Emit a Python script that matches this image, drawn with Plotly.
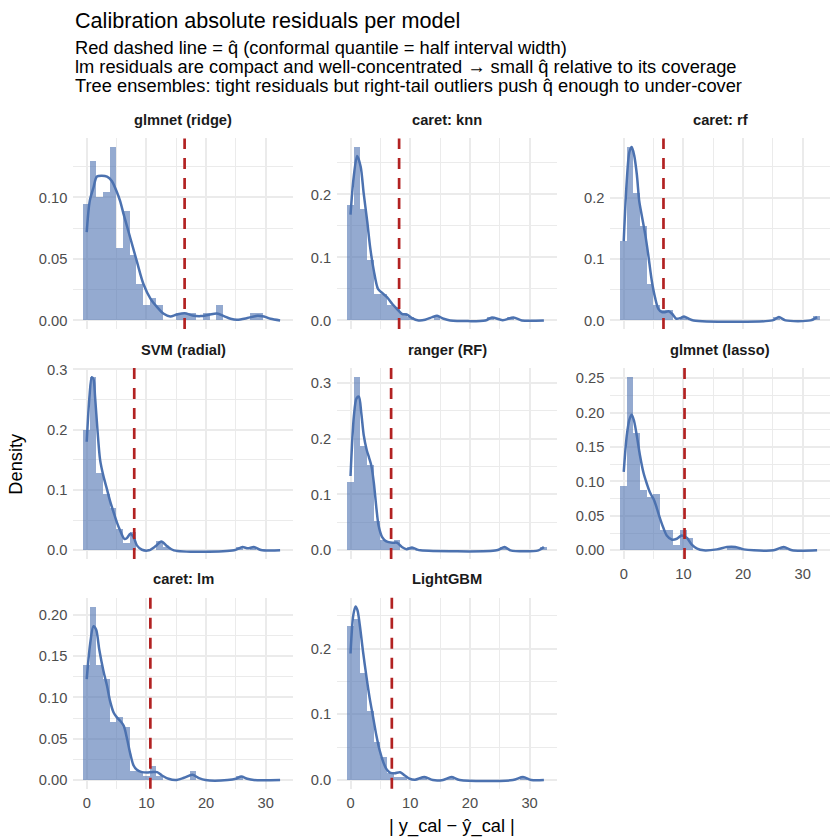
import plotly.graph_objects as go

# ---------------- data ----------------
MODELS = ["glmnet (ridge)", "caret: knn", "caret: rf",
          "SVM (radial)", "ranger (RF)", "glmnet (lasso)",
          "caret: lm", "LightGBM"]

BIN_WIDTH = 1.117          # histogram bin width (30 bins over 0..32.4)
N_BINS = 30

# histogram densities per bin (bin k centred at k*BIN_WIDTH)
hist_ridge = [0.0944, 0.1296, 0.0997, 0.1043, 0.1409, 0.0586, 0.0884, 0.053, 0.0296, 0.0121,
              0.0175, 0.0121, 0, 0, 0.0054, 0.0054, 0.0054, 0, 0.0054, 0,
              0.0121, 0, 0, 0, 0, 0.0054, 0.0054, 0, 0, 0]
hist_knn = [0.1827, 0.275, 0.176, 0.0945, 0.041, 0.041, 0.024, 0.021, 0.0105, 0.0052,
            0, 0, 0, 0.0052, 0, 0, 0, 0, 0, 0,
            0, 0.0052, 0, 0, 0.0052, 0, 0, 0, 0, 0]
hist_rf = [0.1285, 0.282, 0.206, 0.153, 0.059, 0.024, 0.017, 0.017, 0, 0.0054,
           0, 0, 0, 0, 0, 0, 0, 0, 0, 0,
           0, 0, 0, 0.0054, 0, 0, 0, 0, 0, 0.0065]
hist_svm = [0.199, 0.288, 0.128, 0.094, 0.071, 0.035, 0.012, 0.030, 0, 0,
            0, 0.0164, 0.0055, 0, 0, 0, 0, 0, 0, 0,
            0, 0, 0, 0.0055, 0, 0.0055, 0, 0, 0, 0]
hist_ranger = [0.123, 0.311, 0.187, 0.153, 0.052, 0.018, 0.013, 0.018, 0, 0.006,
               0, 0, 0, 0, 0, 0, 0, 0, 0, 0,
               0, 0, 0, 0.006, 0, 0, 0, 0, 0, 0.006]
hist_lasso = [0.0938, 0.2524, 0.1707, 0.088, 0.0774, 0.0827, 0.0293, 0.0293, 0.0072, 0.0293,
              0.0178, 0, 0, 0, 0, 0, 0.0048, 0.0048, 0, 0,
              0, 0, 0, 0, 0.0048, 0, 0, 0, 0, 0]
hist_lm = [0.14, 0.21, 0.14, 0.123, 0.070, 0.0766, 0.0645, 0.0116, 0.0116, 0.0058,
           0.0176, 0.0056, 0, 0, 0, 0, 0.0116, 0, 0, 0,
           0, 0, 0, 0.0056, 0, 0, 0, 0, 0, 0]
hist_lgbm = [0.234, 0.246, 0.163, 0.105, 0.0586, 0.0356, 0.0115, 0.0058, 0.0058, 0,
             0, 0.0058, 0, 0, 0, 0.0058, 0, 0, 0, 0,
             0, 0, 0, 0, 0, 0, 0.0058, 0, 0, 0]

# kernel density curves
dens_ridge_x = [0, 0.5, 1.1, 1.7, 2.5, 3.4, 4.2, 5.0, 5.6, 6.2, 7.3, 8.4, 9.5, 10.7, 11.8, 12.9, 14.0,
                15.1, 16.4, 17.7, 19.1, 20.5, 21.8, 23.0, 24.1, 25.2, 26.9, 28.6, 29.7, 30.8, 32.4]
dens_ridge_y = [0.0718, 0.097, 0.1075, 0.117, 0.1177, 0.117, 0.1134, 0.105, 0.097, 0.086, 0.067, 0.048,
                0.0296, 0.0175, 0.0108, 0.0054, 0.0032, 0.0048, 0.0059, 0.004, 0.0035, 0.0046, 0.0056,
                0.0035, 0.0013, 0.0005, 0.0019, 0.0038, 0.0032, 0.0013, 0.0]
dens_knn_x = [0, 0.5, 1.1, 1.7, 2.2, 2.8, 3.3, 3.9, 4.6, 5.3, 6.1, 7.0, 7.8, 8.6, 9.5, 10.3, 11.4,
              12.5, 13.7, 14.5, 15.6, 16.7, 22.6, 23.7, 25.5, 27.3, 28.7, 32.4]
dens_knn_y = [0.168, 0.225, 0.261, 0.244, 0.202, 0.157, 0.115, 0.079, 0.050, 0.0436, 0.037, 0.026,
              0.018, 0.0105, 0.009, 0.0037, 0.0, 0.001, 0.0052, 0.0073, 0.0026, 0.0, 0.0, 0.0047,
              0.0003, 0.0047, 0.0, 0.0]
dens_rf_x = [0, 0.5, 0.95, 1.34, 1.74, 2.2, 2.6, 3.0, 3.6, 4.1, 4.7, 5.3, 5.8, 6.4, 6.9, 7.5, 8.1,
             8.8, 9.5, 10.1, 10.9, 11.7, 24.9, 26.0, 27.1, 31.3, 32.4]
dens_rf_y = [0.129, 0.226, 0.274, 0.282, 0.269, 0.237, 0.194, 0.172, 0.14, 0.1075, 0.0645, 0.035,
             0.0188, 0.0134, 0.0134, 0.015, 0.0108, 0.0027, 0.0038, 0.0065, 0.0027, 0.0, 0.0, 0.0054,
             0.0, 0.0, 0.0054]
dens_svm_x = [0, 0.45, 0.84, 1.12, 1.4, 1.8, 2.24, 2.8, 3.4, 3.9, 4.5, 5.05, 5.6, 6.3, 6.7, 7.3,
              7.85, 8.4, 9.25, 10.4, 11.5, 12.5, 13.5, 14.6, 24.7, 26.1, 27.0, 28.0, 29.2, 32.4]
dens_svm_y = [0.180, 0.254, 0.287, 0.284, 0.254, 0.1995, 0.150, 0.123, 0.101, 0.082, 0.063, 0.0464,
              0.0328, 0.019, 0.020, 0.0273, 0.0219, 0.0082, 0.001, 0.0, 0.0066, 0.0148, 0.0066, 0.0,
              0.0, 0.0055, 0.0033, 0.0055, 0.0005, 0.0]
dens_ranger_x = [0, 0.56, 1.0, 1.4, 1.8, 2.2, 2.7, 3.1, 3.5, 3.9, 4.35, 4.7, 5.3, 6.0, 7.0, 7.8,
                 8.6, 9.4, 10.3, 11.2, 11.7, 24.5, 25.8, 26.8, 31.5, 32.4]
dens_ranger_y = [0.133, 0.240, 0.272, 0.275, 0.246, 0.207, 0.180, 0.166, 0.151, 0.121, 0.074, 0.0444,
                 0.0237, 0.016, 0.0136, 0.0136, 0.006, 0.0018, 0.0053, 0.0012, 0.0, 0.0, 0.006, 0.0,
                 0.0, 0.006]
dens_lasso_x = [0, 0.5, 0.95, 1.34, 1.74, 2.2, 2.74, 3.3, 3.9, 4.4, 5.0, 5.5, 6.1, 6.7, 7.2, 8.1,
                8.9, 9.7, 10.6, 11.4, 12.3, 13.4, 15.6, 17.3, 18.7, 20.1, 21.8, 25.1, 26.8, 28.2, 32.4]
dens_lasso_y = [0.114, 0.166, 0.19, 0.197, 0.1875, 0.166, 0.137, 0.113, 0.096, 0.084, 0.0745, 0.0625,
                0.0457, 0.0313, 0.0216, 0.0154, 0.0168, 0.0216, 0.0178, 0.0082, 0.0024, 0.0, 0.0014,
                0.0048, 0.0048, 0.0014, 0.0, 0.0, 0.0048, 0.0, 0.0]
dens_lm_x = [0, 0.56, 1.12, 1.57, 2.1, 2.8, 3.4, 3.9, 4.5, 5.05, 5.6, 6.2, 6.7, 7.3, 7.85, 8.4, 9.25,
             10.1, 10.9, 11.8, 12.6, 13.7, 14.9, 16.3, 17.7, 18.8, 19.9, 23.6, 25.0, 25.9, 26.9, 28.0, 32.4]
dens_lm_y = [0.122, 0.164, 0.186, 0.182, 0.158, 0.132, 0.114, 0.0958, 0.0818, 0.0758, 0.0717, 0.0657,
             0.0517, 0.0317, 0.0176, 0.0124, 0.0096, 0.0092, 0.0096, 0.0096, 0.0056, 0.0016, 0.0,
             0.0028, 0.0064, 0.0024, 0.0, 0.0, 0.0016, 0.0044, 0.0016, 0.0, 0.0]
dens_lgbm_x = [0, 0.45, 0.84, 1.17, 1.56, 2.1, 2.7, 3.2, 3.8, 4.35, 4.9, 5.5, 6.0, 6.6, 7.4, 8.3, 9.1,
               9.9, 10.8, 12.4, 13.8, 15.5, 16.9, 18.3, 27.2, 28.9, 30.3, 32.4]
dens_lgbm_y = [0.1925, 0.25, 0.264, 0.258, 0.235, 0.195, 0.155, 0.125, 0.0947, 0.067, 0.0446, 0.027,
               0.017, 0.0115, 0.0105, 0.012, 0.007, 0.002, 0.0005, 0.0045, 0.0, 0.0003, 0.0045, 0.0,
               0.0, 0.0045, 0.0, 0.0]

# conformal quantile q-hat per model
q_hat = [16.4, 8.14, 6.66, 7.96, 6.8, 10.19, 10.66, 6.92]

# y tick values / labels per panel
y_ticks = [[0, 0.05, 0.10], [0, 0.1, 0.2], [0, 0.1, 0.2], [0, 0.1, 0.2, 0.3],
           [0, 0.1, 0.2, 0.3], [0, 0.05, 0.10, 0.15, 0.20, 0.25], [0, 0.05, 0.10, 0.15, 0.20],
           [0, 0.1, 0.2]]
y_labels = [["0.00", "0.05", "0.10"], ["0.0", "0.1", "0.2"], ["0.0", "0.1", "0.2"],
            ["0.0", "0.1", "0.2", "0.3"], ["0.0", "0.1", "0.2", "0.3"],
            ["0.00", "0.05", "0.10", "0.15", "0.20", "0.25"],
            ["0.00", "0.05", "0.10", "0.15", "0.20"], ["0.0", "0.1", "0.2"]]
x_ticks = [0, 10, 20, 30]
x_labels = ["0", "10", "20", "30"]

TITLE = "Calibration absolute residuals per model"
SUBTITLE = ["Red dashed line = q\u0302 (conformal quantile = half interval width)",
            "lm residuals are compact and well-concentrated \u2192 small q\u0302 relative to its coverage",
            "Tree ensembles: tight residuals but right-tail outliers push q\u0302 enough to under-cover"]
X_TITLE = "| y_cal \u2212 \u0177_cal |"
Y_TITLE = "Density"

hists = [hist_ridge, hist_knn, hist_rf, hist_svm, hist_ranger, hist_lasso, hist_lm, hist_lgbm]
dens = [(dens_ridge_x, dens_ridge_y), (dens_knn_x, dens_knn_y), (dens_rf_x, dens_rf_y),
        (dens_svm_x, dens_svm_y), (dens_ranger_x, dens_ranger_y), (dens_lasso_x, dens_lasso_y),
        (dens_lm_x, dens_lm_y), (dens_lgbm_x, dens_lgbm_y)]

# ---------------- layout geometry (pixels) ----------------
W = H = 840
COLS = [(73.4, 293.4), (337.2, 557.2), (610.4, 830.4)]
ROWS = [(133.4, 325.4), (364.5, 557.0), (596.0, 788.4)]
X_RANGE = [-2.234, 34.63]
FONT = "Liberation Sans, Arial, sans-serif"
BLUE = "#4C72B0"
GRID = "#EBEBEB"

def px_x(p):
    return p / W

def px_y(p):
    return 1 - p / H

fig = go.Figure()
layout = dict(width=W, height=H, margin=dict(l=0, r=0, t=0, b=0),
              paper_bgcolor="white", plot_bgcolor="white", showlegend=False,
              bargap=0, barmode="overlay", font=dict(family=FONT))
shapes = []
annotations = []

bin_centers = [k * BIN_WIDTH for k in range(N_BINS)]
x_with_labels = {5, 6, 7}  # panels with x tick labels (0-based)

for i, name in enumerate(MODELS):
    r, c = divmod(i, 3)
    sfx = "" if i == 0 else str(i + 1)
    xa, ya = "x" + sfx, "y" + sfx
    fig.add_trace(go.Bar(x=bin_centers, y=hists[i], width=BIN_WIDTH,
                         marker=dict(color="rgba(76,114,176,0.6)", line=dict(width=0)),
                         xaxis=xa, yaxis=ya, hoverinfo="skip"))
    dx, dy = dens[i]
    fig.add_trace(go.Scatter(x=dx, y=dy, mode="lines",
                             line=dict(color=BLUE, width=2.5, shape="spline", smoothing=0.8),
                             xaxis=xa, yaxis=ya, hoverinfo="skip"))
    ymax = max(max(hists[i]), max(dy))
    y_range = [-0.05 * ymax, 1.05 * ymax]
    yt = y_ticks[i]
    minor_y = [(yt[j] + yt[j + 1]) / 2 for j in range(len(yt) - 1)] + [yt[-1] + (yt[1] - yt[0]) / 2]
    x0p, x1p = COLS[c]
    y0p, y1p = ROWS[r]
    layout["xaxis" + sfx] = dict(
        domain=[px_x(x0p), px_x(x1p)], anchor=ya, range=X_RANGE,
        tickmode="array", tickvals=x_ticks, ticktext=x_labels,
        showticklabels=(i in x_with_labels), ticks="", ticklabelstandoff=4,
        showgrid=True, gridcolor=GRID, gridwidth=1.8, zeroline=False, showline=False,
        minor=dict(tickvals=[5, 15, 25], showgrid=True, gridcolor=GRID, gridwidth=0.9),
        tickfont=dict(size=14.7, color="#4D4D4D", family=FONT), fixedrange=True)
    layout["yaxis" + sfx] = dict(
        domain=[px_y(y1p), px_y(y0p)], anchor=xa, range=y_range,
        tickmode="array", tickvals=yt, ticktext=y_labels[i], ticks="", ticklabelstandoff=5,
        showgrid=True, gridcolor=GRID, gridwidth=1.8, zeroline=False, showline=False,
        minor=dict(tickvals=minor_y, showgrid=True, gridcolor=GRID, gridwidth=0.9),
        tickfont=dict(size=14.7, color="#4D4D4D", family=FONT), fixedrange=True)
    shapes.append(dict(type="line", xref=xa, yref=ya + " domain", x0=q_hat[i], x1=q_hat[i],
                       y0=0, y1=1, line=dict(color="#B22222", width=2.7, dash="11px,9px"),
                       layer="above"))
    annotations.append(dict(text="<b>%s</b>" % name, xref="paper", yref="paper",
                            x=px_x((x0p + x1p) / 2), y=px_y(y0p - 18.5),
                            xanchor="center", yanchor="middle", showarrow=False,
                            font=dict(size=14.7, color="#1A1A1A", family=FONT)))

annotations.append(dict(text=TITLE, xref="paper", yref="paper", x=px_x(73.4), y=px_y(15),
                        xanchor="left", yanchor="middle", showarrow=False,
                        font=dict(size=21.6, color="black", family=FONT)))
for j, line in enumerate(SUBTITLE):
    annotations.append(dict(text=line, xref="paper", yref="paper", x=px_x(73.4), y=px_y(42 + 19 * j),
                            xanchor="left", yanchor="middle", showarrow=False,
                            font=dict(size=18.3, color="black", family=FONT)))
annotations.append(dict(text=X_TITLE, xref="paper", yref="paper", x=px_x(451.9), y=px_y(826),
                        xanchor="center", yanchor="middle", showarrow=False,
                        font=dict(size=18.3, color="black", family=FONT)))
annotations.append(dict(text=Y_TITLE, xref="paper", yref="paper", x=px_x(16), y=px_y(461),
                        xanchor="center", yanchor="middle", textangle=-90, showarrow=False,
                        font=dict(size=18.3, color="black", family=FONT)))

layout["shapes"] = shapes
layout["annotations"] = annotations
fig.update_layout(**layout)
fig.write_html("out.html")
